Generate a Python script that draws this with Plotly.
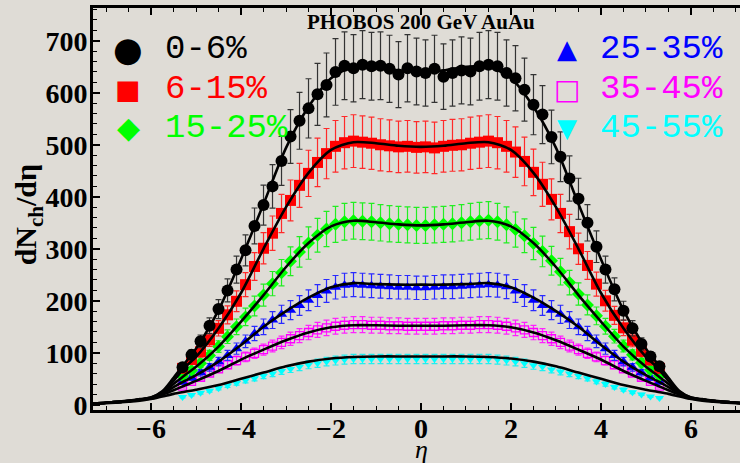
import plotly.graph_objects as go

# ---------------- data ----------------
eta = [-5.3, -5.1, -4.9, -4.7, -4.5, -4.3, -4.1, -3.9, -3.7, -3.5, -3.3, -3.1, -2.9, -2.7,
       -2.5, -2.3, -2.1, -1.9, -1.7, -1.5, -1.3, -1.1, -0.9, -0.7, -0.5, -0.3, -0.1,
       0.1, 0.3, 0.5, 0.7, 0.9, 1.1, 1.3, 1.5, 1.7, 1.9, 2.1, 2.3, 2.5, 2.7, 2.9, 3.1,
       3.3, 3.5, 3.7, 3.9, 4.1, 4.3, 4.5, 4.7, 4.9, 5.1, 5.3]

c0_6 = [72, 96, 122, 152, 184, 220, 260, 297, 344, 384, 420, 469, 516, 546,
        570, 597, 615, 640, 652, 647, 654, 651, 652, 646, 635, 647, 641,
        638, 646, 631, 638, 643, 641, 651, 654, 651, 638, 628, 606, 577, 558, 515, 477,
        435, 396, 350, 304, 260, 222, 181, 147, 117, 93, 74]
c6_15 = [70, 87, 102, 125, 147, 173, 199, 231, 266, 301, 330, 368, 393, 422,
         445, 466, 483, 497, 504, 507, 505, 503, 500, 498, 496, 497, 495,
         496, 494, 497, 499, 500, 503, 505, 507, 504, 497, 486, 468, 447, 424, 395, 368,
         333, 300, 268, 232, 200, 172, 148, 124, 103, 86, 70]
c15_25 = [55, 66, 80, 95, 112, 131, 150, 169, 190, 211, 233, 254, 276, 294,
          311, 326, 338, 347, 352, 354, 353, 352, 350, 348, 347, 346, 345,
          345, 346, 347, 348, 350, 352, 354, 355, 352, 346, 337, 325, 310, 295, 277, 256,
          235, 213, 192, 171, 151, 132, 113, 96, 81, 67, 56]
c25_35 = [44, 52, 62, 72, 83, 95, 108, 122, 137, 150, 163, 174, 182, 191,
          201, 210, 219, 226, 230, 231, 230, 229, 228, 227, 226, 226, 225,
          225, 226, 227, 227, 228, 229, 230, 231, 230, 227, 219, 210, 201, 191, 182, 174,
          163, 150, 137, 122, 108, 95, 83, 72, 62, 52, 44]
c35_45 = [36, 45, 53, 61, 69, 77, 85, 92, 99, 106, 113, 120, 127, 133,
          139, 144, 148, 151, 153, 154, 154, 153, 153, 152, 152, 151, 151,
          151, 151, 152, 152, 153, 153, 154, 154, 153, 151, 148, 144, 139, 133, 127, 120,
          113, 106, 99, 92, 85, 77, 69, 61, 53, 45, 36]
c45_55 = [15, 19, 23, 27, 32, 37, 42, 47, 51, 56, 60, 65, 69, 73,
          77, 80, 83, 85, 87, 88, 88, 88, 88, 88, 88, 88, 88,
          88, 88, 88, 88, 88, 88, 88, 88, 87, 85, 83, 80, 76, 73, 68, 64,
          60, 56, 51, 45, 40, 34, 29, 24, 20, 16, 13]

# relative (systematic) error, per centrality class
err_frac = [0.10, 0.10, 0.10, 0.10, 0.10, 0.10]

# model curves
curve_eta = [-7.5, -7, -6.5, -6.25, -6, -5.75, -5.5, -5.25, -5, -4.5, -4, -3.5, -3, -2.5, -2,
             -1.5, -1, -0.5, 0, 0.5, 1, 1.5, 2, 2.5, 3, 3.5, 4, 4.5, 5, 5.25, 5.5, 5.75,
             6, 6.25, 6.5, 7, 7.5]
fit0_6 = [2, 4, 8, 11, 14, 26, 52, 80, 108, 182, 280, 386, 494, 573, 628,
          650, 650, 643, 640, 643, 650, 650, 628, 573, 494, 386, 280, 182, 108, 80, 52, 26,
          14, 11, 8, 4, 2]
fit6_15 = [2, 4, 7, 10, 14, 25, 46, 72, 92, 147, 215, 300, 380, 446, 490,
           505, 503, 498, 496, 498, 503, 505, 490, 446, 380, 300, 215, 147, 92, 72, 46, 25,
           14, 10, 7, 4, 2]
fit15_25 = [2, 4, 7, 10, 13, 23, 40, 57, 73, 112, 160, 211, 265, 311, 343,
            354, 351, 347, 345, 347, 351, 354, 343, 311, 265, 211, 160, 112, 73, 57, 40, 23,
            13, 10, 7, 4, 2]
fit25_35 = [2, 4, 7, 10, 13, 21, 34, 46, 57, 83, 115, 150, 180, 206, 226,
            234, 232, 231, 231, 231, 232, 234, 226, 206, 180, 150, 115, 83, 57, 46, 34, 21,
            13, 10, 7, 4, 2]
fit35_45 = [2, 4, 7, 10, 12, 19, 28, 37, 46, 65, 87, 106, 124, 139, 149,
            153, 153, 152, 152, 152, 153, 153, 149, 139, 124, 106, 87, 65, 46, 37, 28, 19,
            12, 10, 7, 4, 2]
fit45_55 = [2, 3, 6, 8, 11, 16, 21, 25, 29, 38, 50, 62, 74, 83, 89,
            92, 93, 93, 93, 93, 93, 92, 89, 83, 74, 62, 50, 38, 29, 25, 21, 16,
            11, 8, 6, 3, 2]

labels = ["0-6%", "6-15%", "15-25%", "25-35%", "35-45%", "45-55%"]
tick_x = [-6, -4, -2, 0, 2, 4, 6]
tick_y = [0, 100, 200, 300, 400, 500, 600, 700]
title_text = "PHOBOS 200 GeV AuAu"

series = [c0_6, c6_15, c15_25, c25_35, c35_45, c45_55]
fits = [fit0_6, fit6_15, fit15_25, fit25_35, fit35_45, fit45_55]

# ---------------- style ----------------
colors = ["#000000", "#ff0000", "#00ff00", "#0000ff", "#ff00ff", "#00ffff"]
bar_colors = ["#333333", "#ff2a2a", "#22ee22", "#2a2aff", "#ff22ff", "#22eeee"]
symbols = ["circle", "square", "diamond", "triangle-up", "square-open", "triangle-down"]
sizes = [12, 11, 10, 10, 8, 8]
glyphs = ["\u25CF", "\u25A0", "\u25C6", "\u25B2", "\u25A1", "\u25BC"]
glyph_sizes = [34, 27, 30, 26, 28, 26]
BG = "#dfdcd6"
SERIF = "Liberation Serif"
MONO = "Liberation Mono"

fig = go.Figure()

# data points: draw most peripheral first so central class sits on top
for i in reversed(range(6)):
    vals = series[i]
    errs = [v * err_frac[i] for v in vals]
    fig.add_trace(go.Scatter(
        x=eta, y=vals, mode="markers", name=labels[i], showlegend=False,
        marker=dict(symbol=symbols[i], size=sizes[i], color=colors[i],
                    line=dict(width=1.3 if symbols[i].endswith("open") else 0, color=colors[i])),
        error_y=dict(type="data", array=errs, visible=True, color=bar_colors[i],
                     thickness=1.2, width=3),
    ))

# model curves on top
for i in reversed(range(6)):
    fig.add_trace(go.Scatter(
        x=curve_eta, y=fits[i], mode="lines", showlegend=False,
        line=dict(color="black", width=2.6, shape="spline", smoothing=0.8),
        hoverinfo="skip",
    ))

tickfont = dict(family=SERIF, size=28, color="black", weight="bold")

fig.update_layout(
    width=740, height=463,
    margin=dict(l=93, r=0, t=8, b=53),
    paper_bgcolor=BG, plot_bgcolor=BG,
    showlegend=False,
    xaxis=dict(range=[-7.29, 7.09], tickvals=tick_x, ticks="inside", ticklen=7, tickwidth=2,
               tickcolor="black", showline=True, linewidth=3, linecolor="black",
               mirror="ticks", showgrid=False, zeroline=False, tickfont=tickfont,
               ticklabelstandoff=-9,
               minor=dict(dtick=0.5, ticks="inside", ticklen=4, tickwidth=1.3,
                          tickcolor="black", showgrid=False)),
    yaxis=dict(range=[-10, 763], tickvals=tick_y, ticks="inside", ticklen=7, tickwidth=2,
               tickcolor="black", showline=True, linewidth=3, linecolor="black",
               showgrid=False, zeroline=False, tickfont=tickfont, ticklabelstandoff=-3,
               minor=dict(dtick=20, ticks="inside", ticklen=4, tickwidth=1.3,
                          tickcolor="black", showgrid=False)),
)

ann = []
# title inside plot
ann.append(dict(x=0, y=0.965, xref="x", yref="paper", text=title_text, showarrow=False,
                font=dict(family=SERIF, size=21, color="black", weight="bold"),
                xanchor="center", yanchor="middle"))
# axis titles
ann.append(dict(x=-0.1, y=0.485, xref="paper", yref="paper",
                text="dN<sub>ch</sub>/d\u03B7", textangle=-90, showarrow=False,
                font=dict(family=SERIF, size=30, color="black", weight="bold"),
                xanchor="center", yanchor="middle"))
ann.append(dict(x=0, y=-0.099, xref="x", yref="paper", text="<i>\u03B7</i>", showarrow=False,
                font=dict(family=SERIF, size=26, color="black"), borderpad=0,
                xanchor="center", yanchor="middle"))
# legend (two columns)
leg_rows = [0.898, 0.7985, 0.7015]
for i in range(6):
    col = i // 3
    row = i % 3
    gx = 0.0541 if col == 0 else 0.7326
    tx = 0.108 if col == 0 else 0.7805
    ann.append(dict(x=gx, y=leg_rows[row], xref="paper", yref="paper", text=glyphs[i],
                    showarrow=False, font=dict(family="DejaVu Sans", size=glyph_sizes[i],
                                               color=colors[i]),
                    xanchor="center", yanchor="middle"))
    ann.append(dict(x=tx, y=leg_rows[row], xref="paper", yref="paper", text=labels[i],
                    showarrow=False, font=dict(family=MONO, size=34, color=colors[i]),
                    xanchor="left", yanchor="middle"))
fig.update_layout(annotations=ann)

fig.write_html("out.html")
